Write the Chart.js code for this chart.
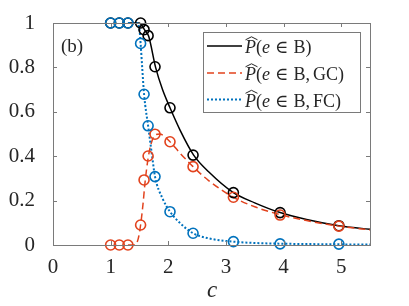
<!DOCTYPE html>
<html>
<head>
<meta charset="utf-8">
<script src="https://cdn.jsdelivr.net/npm/chart.js@4"></script>
<style>
  html, body { margin: 0; padding: 0; background: #fff; }
  #wrap { width: 409px; height: 306px; }
</style>
</head>
<body>
<div id="wrap"><canvas id="chart" width="409" height="306"></canvas></div>
<script>
// ----------------------------
// DATA
// ----------------------------
const xTicks = [0, 1, 2, 3, 4, 5];
const yTicks = [0, 0.2, 0.4, 0.6, 0.8, 1];

// simulation markers
const cSim = [1.0, 1.15, 1.3, 1.52, 1.58, 1.65, 1.77, 2.03, 2.43, 3.13, 3.94, 4.96];
const pSimAll = [1, 1, 1, 1.0, 0.97, 0.943, 0.803, 0.618, 0.405, 0.236, 0.146, 0.087];
const pSimGC = [0, 0, 0, 0.09, 0.293, 0.401, 0.499, 0.465, 0.353, 0.215, 0.135, 0.085];
const pSimFC = [1, 1, 1, 0.908, 0.679, 0.537, 0.308, 0.15, 0.053, 0.015, 0.005, 0.004];

// theory curves
const cAll = [1.3, 1.5, 1.55, 1.6, 1.66, 1.78, 1.9, 2.03, 2.2, 2.44, 2.7, 3.13, 3.5, 3.94, 4.4, 4.96, 5.5];
const pAll = [1, 1, 0.985, 0.965, 0.94, 0.80, 0.70, 0.618, 0.52, 0.405, 0.33, 0.236, 0.19, 0.146, 0.115, 0.087, 0.071];
const cGC = [1.3, 1.42, 1.48, 1.52, 1.56, 1.6, 1.65, 1.7, 1.77, 1.85, 2.03, 2.2, 2.43, 2.7, 3.13, 3.5, 3.94, 4.4, 4.96, 5.5];
const pGC = [0, 0, 0.03, 0.09, 0.18, 0.29, 0.39, 0.455, 0.495, 0.5, 0.465, 0.415, 0.353, 0.29, 0.215, 0.172, 0.137, 0.11, 0.085, 0.068];
const cFC = [1.3, 1.46, 1.5, 1.52, 1.55, 1.58, 1.65, 1.72, 1.77, 1.9, 2.03, 2.2, 2.43, 2.7, 3.13, 3.5, 3.94, 4.5, 4.96, 5.5];
const pFC = [1, 1, 0.97, 0.908, 0.79, 0.679, 0.537, 0.4, 0.308, 0.21, 0.15, 0.1, 0.053, 0.03, 0.015, 0.009, 0.006, 0.004, 0.003, 0.002];

const legendLabels = ['P\u0302(e \u2208 B)', 'P\u0302(e \u2208 B,GC)', 'P\u0302(e \u2208 B,FC)'];
const panelLabel = '(b)';
const xTitle = 'c';

const BLACK = '#000000';
const RED = '#E2431E';
const BLUE = '#0072BD';
const AXIS = '#7a7a7a';
const TEXT = '#262626';
const SERIF = '"Liberation Serif", "DejaVu Serif", serif';

const pts = (xs, ys) => xs.map((x, i) => ({ x, y: ys[i] }));

// ----------------------------
// PLUGIN: box, inward ticks, legend, labels
// ----------------------------
function drawMath(ctx, text, x, y, size) {
  const roman = `${size}px ${SERIF}`;
  const italic = `italic ${size}px ${SERIF}`;
  let cx = x;
  let prev = null;
  for (const ch of text) {
    if (ch === '\u0302' && prev) {
      // wide hat over previous glyph
      const top = y - size * 0.9;
      ctx.save();
      ctx.strokeStyle = TEXT;
      ctx.lineWidth = 1;
      ctx.beginPath();
      ctx.moveTo(prev.x + 0.5, top + 3);
      ctx.lineTo((prev.x + prev.x2) / 2 + 1, top);
      ctx.lineTo(prev.x2 + 1.5, top + 3);
      ctx.stroke();
      ctx.restore();
      continue;
    }
    if (ch === ' ') { cx += size * 0.28; continue; }
    ctx.font = /[Pec]/.test(ch) ? italic : roman;
    ctx.fillStyle = TEXT;
    ctx.fillText(ch, cx, y);
    const w = ctx.measureText(ch).width;
    prev = { x: cx, x2: cx + w };
    cx += w;
    if (ch === ',') cx += size * 0.17;
  }
}

const decor = {
  id: 'decor',
  afterDraw(chart) {
    const { ctx, chartArea: a, scales } = chart;
    const xs = scales.x, ys = scales.y;
    ctx.save();
    ctx.strokeStyle = AXIS;
    ctx.lineWidth = 1;
    ctx.strokeRect(Math.round(a.left) + 0.5, Math.round(a.top) + 0.5,
      Math.round(a.right - a.left), Math.round(a.bottom - a.top));
    const tl = 4;
    ctx.beginPath();
    xTicks.forEach(v => {
      const px = Math.round(xs.getPixelForValue(v)) + 0.5;
      ctx.moveTo(px, a.bottom); ctx.lineTo(px, a.bottom - tl);
      ctx.moveTo(px, a.top); ctx.lineTo(px, a.top + tl);
    });
    yTicks.forEach(v => {
      const py = Math.round(ys.getPixelForValue(v)) + 0.5;
      ctx.moveTo(a.left, py); ctx.lineTo(a.left + tl, py);
      ctx.moveTo(a.right, py); ctx.lineTo(a.right - tl, py);
    });
    ctx.stroke();

    // panel label
    ctx.fillStyle = TEXT;
    ctx.font = `19px ${SERIF}`;
    ctx.textBaseline = 'alphabetic';
    ctx.fillText(panelLabel, 61, 52);

    // x title
    ctx.font = `italic 23px ${SERIF}`;
    ctx.textAlign = 'center';
    ctx.fillText(xTitle, 212, 297);
    ctx.textAlign = 'left';

    // legend
    const lx = 203.5, ly = 32.5, lw = 157, lh = 80;
    ctx.fillStyle = '#fff';
    ctx.fillRect(lx, ly, lw, lh);
    ctx.strokeStyle = AXIS;
    ctx.strokeRect(lx, ly, lw, lh);
    const ds = chart.data.datasets;
    const baselines = [53, 80, 106.5];
    legendLabels.forEach((lab, i) => {
      const d = ds[i];
      const yy = baselines[i] - 7;
      ctx.save();
      ctx.strokeStyle = d.borderColor;
      ctx.lineWidth = d.borderWidth;
      ctx.setLineDash(d.borderDash || []);
      ctx.beginPath();
      ctx.moveTo(207, yy); ctx.lineTo(242, yy);
      ctx.stroke();
      ctx.restore();
      drawMath(ctx, lab, 245, baselines[i], 18);
    });
    ctx.restore();
  }
};

// ----------------------------
// CHART
// ----------------------------
const lineDs = (label, data, color, dash, width, order) => ({
  label, data, borderColor: color, borderWidth: width, borderDash: dash,
  pointRadius: 0, fill: false, cubicInterpolationMode: 'monotone',
  clip: false, order
});
const markDs = (label, data, color, order) => ({
  label, data, showLine: false, borderColor: color, backgroundColor: 'rgba(0,0,0,0)',
  pointRadius: 5, pointBorderWidth: 1.6, pointStyle: 'circle', clip: false, order
});

new Chart(document.getElementById('chart'), {
  type: 'line',
  data: {
    datasets: [
      lineDs('All', pts(cAll, pAll), BLACK, [], 1.5, 6),
      lineDs('GC', pts(cGC, pGC), RED, [7, 4], 1.5, 5),
      lineDs('FC', pts(cFC, pFC), BLUE, [2, 2], 2, 4),
      markDs('All sim', pts(cSim, pSimAll), BLACK, 3),
      markDs('GC sim', pts(cSim, pSimGC), RED, 2),
      markDs('FC sim', pts(cSim, pSimFC), BLUE, 1)
    ]
  },
  options: {
    responsive: false,
    animation: false,
    layout: { padding: { top: 23, right: 39, left: 0, bottom: 0 } },
    plugins: { legend: { display: false }, tooltip: { enabled: false } },
    scales: {
      x: {
        type: 'linear', min: 0, max: 5.5,
        grid: { display: false }, border: { display: false },
        afterBuildTicks: s => { s.ticks = xTicks.map(v => ({ value: v })); },
        afterFit: s => { s.height = 61; },
        ticks: { color: TEXT, padding: 2, maxRotation: 0, font: { family: SERIF, size: 21 },
          callback: v => String(v) }
      },
      y: {
        min: 0, max: 1,
        grid: { display: false }, border: { display: false },
        afterBuildTicks: s => { s.ticks = yTicks.map(v => ({ value: v })); },
        afterFit: s => { s.width = 53; },
        ticks: { color: TEXT, padding: 10, font: { family: SERIF, size: 21 },
          callback: v => String(v) }
      }
    }
  },
  plugins: [decor]
});
</script>
</body>
</html>
